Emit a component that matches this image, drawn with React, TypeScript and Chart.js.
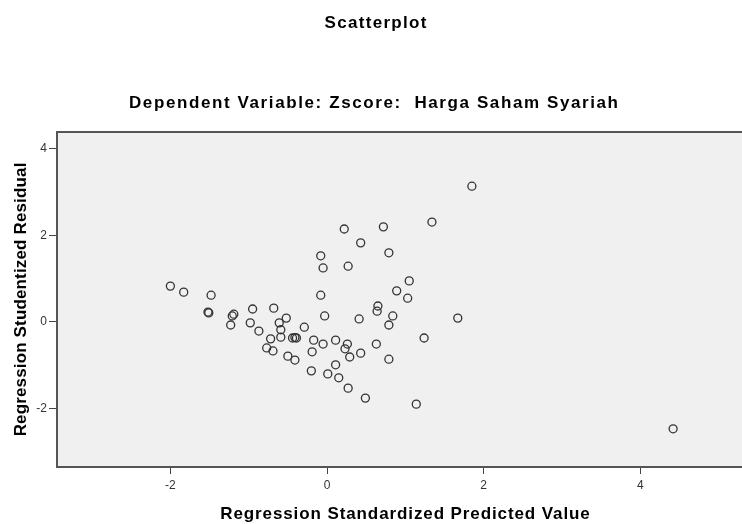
import React, { useEffect, useRef } from "react";
import { Chart, registerables } from "chart.js";

Chart.register(...registerables);

const chartTitle = "Scatterplot";
const chartSubtitle = "Dependent Variable: Zscore:  Harga Saham Syariah";
const xAxisTitle = "Regression Standardized Predicted Value";
const yAxisTitle = "Regression Studentized Residual";

const xTickValues = [-2, 0, 2, 4];
const yTickValues = [-2, 0, 2, 4];

// Regression Standardized Predicted Value
const predictedValues = [
  -2.0, -1.83, -1.48, -1.52, -1.51, -1.21, -1.19, -1.23, -0.95, -0.68,
  -0.98, -0.87, -0.61, -0.52, -0.59, -0.59, -0.72, -0.77, -0.69, -0.29,
  -0.44, -0.41, -0.39, -0.5, -0.41, -0.17, -0.05, -0.19, 0.11, 0.23,
  0.26, 0.29, -0.2, 0.01, 0.15, 0.11, 0.27, 0.49, 1.14, 0.43,
  0.63, 0.79, 1.24, 1.67, 0.79, 0.84, 0.65, 0.64, 0.41, -0.03,
  -0.08, -0.08, -0.05, 0.27, 0.22, 0.72, 0.43, 0.79, 1.05, 0.89,
  1.03, 1.34, 1.85, 4.42,
];

// Regression Studentized Residual
const studentizedResiduals = [
  0.83, 0.69, 0.62, 0.23, 0.21, 0.14, 0.18, -0.07, 0.3, 0.32,
  -0.02, -0.21, -0.02, 0.09, -0.18, -0.35, -0.39, -0.6, -0.67, -0.12,
  -0.37, -0.36, -0.37, -0.79, -0.88, -0.42, -0.51, -0.69, -0.42, -0.62,
  -0.51, -0.81, -1.13, -1.2, -1.29, -0.99, -1.53, -1.76, -1.9, -0.72,
  -0.51, -0.86, -0.37, 0.09, -0.07, 0.14, 0.37, 0.25, 0.07, 0.14,
  0.62, 1.53, 1.25, 1.29, 2.15, 2.2, 1.83, 1.6, 0.95, 0.72,
  0.55, 2.31, 3.14, -2.47,
];

const X_MIN = -3.448;
const X_MAX = 5.44;
const Y_MIN = -3.353;
const Y_MAX = 4.393;

const FONT = "'Liberation Sans', Arial, sans-serif";
const CANVAS_W = 753;
const CANVAS_H = 524;

function drawSpaced(ctx: any, text: string, x: number, y: number, size: number, spacing: number) {
  ctx.font = `bold ${size}px ${FONT}`;
  let shift = 0;
  if ("letterSpacing" in ctx) {
    ctx.letterSpacing = `${spacing}px`;
    shift = spacing / 2;
  }
  ctx.fillText(text, x + shift, y);
  if ("letterSpacing" in ctx) ctx.letterSpacing = "0px";
}

const plotDecor = {
  id: "plotDecor",
  beforeDraw(chart: any) {
    const { ctx, chartArea } = chart;
    ctx.save();
    ctx.fillStyle = "#F0F0F0";
    ctx.fillRect(chartArea.left, chartArea.top, chartArea.right - chartArea.left, chartArea.bottom - chartArea.top);
    ctx.restore();
  },
  afterDraw(chart: any) {
    const { ctx, chartArea } = chart;
    ctx.save();
    ctx.strokeStyle = "#555555";
    ctx.lineWidth = 2;
    ctx.strokeRect(chartArea.left, chartArea.top, chartArea.right - chartArea.left, chartArea.bottom - chartArea.top);

    ctx.fillStyle = "#000";
    ctx.textAlign = "center";
    ctx.textBaseline = "alphabetic";
    const midX = chart.width / 2;
    drawSpaced(ctx, chartTitle, midX - 1, 28, 17, 1.3);
    drawSpaced(ctx, chartSubtitle, midX - 3, 108, 17, 1.6);
    drawSpaced(ctx, xAxisTitle, (chartArea.left + chartArea.right) / 2, chartArea.bottom + 52, 17, 0.9);
    ctx.save();
    ctx.translate(26, (chartArea.top + chartArea.bottom) / 2);
    ctx.rotate(-Math.PI / 2);
    drawSpaced(ctx, yAxisTitle, 0, 0, 17, 0.15);
    ctx.restore();
    ctx.restore();
  },
};

export default function App() {
  const canvasRef = useRef<HTMLCanvasElement | null>(null);

  useEffect(() => {
    if (!canvasRef.current) return;
    const points = predictedValues.map((x, i) => ({ x, y: studentizedResiduals[i] }));
    const chart = new Chart(canvasRef.current, {
      type: "scatter",
      data: {
        datasets: [
          {
            label: "Residuals",
            data: points,
            pointStyle: "circle",
            pointRadius: 4,
            pointHoverRadius: 4,
            pointBackgroundColor: "rgba(0,0,0,0)",
            pointBorderColor: "#333333",
            pointBorderWidth: 1.3,
          },
        ],
      },
      options: {
        animation: false,
        responsive: false,
        events: [],
        layout: { autoPadding: false, padding: { left: 0, right: 0, top: 132, bottom: 0 } },
        plugins: {
          legend: { display: false },
          tooltip: { enabled: false },
          title: { display: false },
          subtitle: { display: false },
        },
        scales: {
          x: {
            type: "linear",
            min: X_MIN,
            max: X_MAX,
            afterBuildTicks: (scale: any) => {
              scale.ticks = xTickValues.map((v) => ({ value: v }));
            },
            afterFit: (scale: any) => {
              scale.height = 57;
              scale.paddingLeft = 0;
              scale.paddingRight = 0;
            },
            grid: { drawOnChartArea: false, drawTicks: true, tickLength: 7, color: "#444", lineWidth: 1 },
            border: { display: false },
            ticks: {
              padding: 4,
              color: "#333",
              font: { family: FONT, size: 12 },
              maxRotation: 0,
              callback: (v: any) => String(v),
            },
            title: { display: false },
          },
          y: {
            type: "linear",
            min: Y_MIN,
            max: Y_MAX,
            afterBuildTicks: (scale: any) => {
              scale.ticks = yTickValues.map((v) => ({ value: v }));
            },
            afterFit: (scale: any) => {
              scale.width = 57;
              scale.paddingTop = 0;
              scale.paddingBottom = 0;
            },
            grid: { drawOnChartArea: false, drawTicks: true, tickLength: 8, color: "#444", lineWidth: 1 },
            border: { display: false },
            ticks: {
              padding: 2,
              color: "#333",
              font: { family: FONT, size: 12 },
              callback: (v: any) => String(v),
            },
            title: { display: false },
          },
        },
      },
      plugins: [plotDecor],
    });
    return () => chart.destroy();
  }, []);

  return (
    <div style={{ position: "fixed", left: 0, top: 0, width: 742, height: 524, overflow: "hidden", background: "#fff" }}>
      <canvas
        ref={canvasRef}
        width={CANVAS_W}
        height={CANVAS_H}
        style={{ width: CANVAS_W, height: CANVAS_H, display: "block" }}
      />
    </div>
  );
}
